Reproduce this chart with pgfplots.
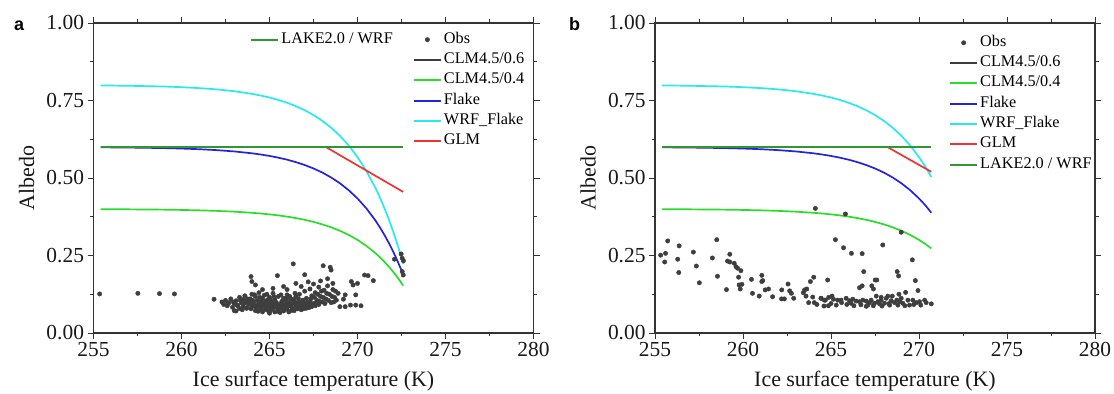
\documentclass[border=0pt]{standalone}
\usepackage{fontspec}
\setmainfont{Liberation Serif}
\newfontfamily\sansbold{Liberation Sans}
\usepackage{pgfplots}
\usepackage{pgfplotstable}
\pgfplotsset{compat=1.18}

\definecolor{obsc}{RGB}{62,62,62}
\definecolor{clmsix}{RGB}{60,60,60}
\definecolor{clmfour}{RGB}{40,222,40}
\definecolor{flakec}{RGB}{35,35,225}
\definecolor{wrfc}{RGB}{40,232,242}
\definecolor{glmc}{RGB}{240,50,50}
\definecolor{lakec}{RGB}{50,150,50}

% curves, panel a
\pgfplotstableread{
T flake wrf clm
255.4 0.5990 0.7986 0.3994
257.0 0.5982 0.7975 0.3989
259.0 0.5965 0.7951 0.3979
260.0 0.5950 0.7930 0.3970
261.0 0.5929 0.7900 0.3957
262.0 0.5899 0.7859 0.3939
263.0 0.5857 0.7799 0.3914
264.0 0.5797 0.7715 0.3878
264.5 0.5758 0.7661 0.3855
265.0 0.5712 0.7596 0.3827
265.5 0.5656 0.7519 0.3794
266.0 0.5591 0.7427 0.3754
266.5 0.5512 0.7317 0.3707
267.0 0.5419 0.7187 0.3651
267.5 0.5308 0.7031 0.3585
268.0 0.5176 0.6846 0.3505
268.5 0.5018 0.6625 0.3411
269.0 0.4830 0.6362 0.3298
269.5 0.4606 0.6049 0.3164
270.0 0.4340 0.5676 0.3004
270.5 0.4022 0.5231 0.2813
271.0 0.3644 0.4702 0.2586
271.25 0.3429 0.4400 0.2457
271.5 0.3193 0.4071 0.2316
271.75 0.2937 0.3712 0.2162
272.0 0.2657 0.3320 0.1994
272.15 0.2477 0.3067 0.1886
272.3 0.2287 0.2801 0.1772
272.45 0.2086 0.2521 0.1652
272.6 0.1876 0.2226 0.1525
}\curvesa

% curves, panel b
\pgfplotstableread{
T flake wrf clm
255.4 0.5990 0.7986 0.3994
257.0 0.5982 0.7975 0.3989
259.0 0.5965 0.7951 0.3979
260.0 0.5950 0.7930 0.3970
261.0 0.5929 0.7900 0.3957
262.0 0.5899 0.7859 0.3939
263.0 0.5857 0.7799 0.3914
264.0 0.5797 0.7715 0.3878
264.5 0.5758 0.7661 0.3855
265.0 0.5712 0.7596 0.3827
265.5 0.5656 0.7519 0.3794
266.0 0.5591 0.7427 0.3754
266.5 0.5512 0.7317 0.3707
267.0 0.5419 0.7187 0.3651
267.5 0.5308 0.7031 0.3585
268.0 0.5176 0.6846 0.3505
268.5 0.5018 0.6625 0.3411
269.0 0.4830 0.6362 0.3298
269.5 0.4606 0.6049 0.3164
270.0 0.4340 0.5676 0.3004
270.3 0.4158 0.5421 0.2895
270.5 0.4022 0.5231 0.2813
270.7 0.3879 0.5030 0.2727
}\curvesb

% observations, panel a
\pgfplotstableread{
T a
255.35 0.126
257.52 0.128
258.75 0.127
259.60 0.126
261.85 0.109
262.30 0.100
262.40 0.092
262.50 0.105
262.60 0.088
262.70 0.098
262.80 0.110
262.90 0.083
263.00 0.095
263.00 0.072
263.10 0.104
263.20 0.088
263.30 0.115
263.30 0.079
263.40 0.097
263.50 0.108
263.50 0.086
263.60 0.120
263.70 0.080
263.70 0.101
263.80 0.092
263.90 0.110
264.00 0.125
264.00 0.085
264.10 0.097
264.20 0.072
264.20 0.118
264.30 0.105
264.40 0.088
264.40 0.130
264.50 0.078
264.50 0.099
264.60 0.112
264.60 0.068
264.70 0.090
264.70 0.122
264.80 0.082
264.80 0.104
264.90 0.073
264.90 0.095
265.00 0.115
265.00 0.064
265.00 0.086
265.10 0.100
265.10 0.076
265.20 0.128
265.20 0.092
265.30 0.068
265.30 0.108
265.40 0.083
265.40 0.097
265.50 0.074
265.50 0.118
265.60 0.089
265.60 0.066
265.70 0.102
265.70 0.080
265.80 0.112
265.80 0.071
265.90 0.093
265.90 0.085
266.00 0.123
266.00 0.077
266.10 0.098
266.10 0.068
266.20 0.087
266.20 0.110
266.30 0.080
266.30 0.095
266.40 0.072
266.40 0.104
266.50 0.088
266.50 0.118
264.25 0.080
264.65 0.094
265.05 0.108
265.25 0.082
265.65 0.094
265.95 0.104
266.15 0.090
266.45 0.096
264.85 0.088
265.45 0.090
264.35 0.092
263.85 0.098
263.15 0.090
263.45 0.075
263.55 0.095
263.75 0.110
263.95 0.078
264.05 0.105
264.15 0.088
264.35 0.070
264.45 0.115
264.55 0.085
264.75 0.076
264.95 0.110
265.15 0.090
265.35 0.100
265.55 0.080
265.75 0.090
265.85 0.075
266.05 0.086
266.25 0.073
266.35 0.108
266.55 0.083
266.65 0.110
266.75 0.095
266.85 0.100
266.95 0.078
267.05 0.088
267.15 0.100
267.25 0.082
267.35 0.110
267.45 0.092
267.55 0.115
267.65 0.098
267.75 0.125
267.85 0.102
267.95 0.135
268.05 0.115
268.15 0.095
268.25 0.128
268.35 0.105
268.55 0.118
268.65 0.100
268.75 0.135
264.15 0.123
264.85 0.125
265.65 0.123
266.45 0.128
265.25 0.118
264.55 0.102
265.95 0.112
266.15 0.118
263.35 0.105
262.95 0.100
262.65 0.095
265.45 0.070
265.05 0.072
266.25 0.094
264.05 0.090
266.60 0.078
266.60 0.098
266.70 0.086
266.70 0.125
266.80 0.092
266.80 0.075
266.90 0.106
266.90 0.084
267.00 0.096
267.00 0.135
267.10 0.080
267.10 0.112
267.20 0.090
267.30 0.100
267.30 0.142
267.40 0.085
267.40 0.120
267.50 0.095
267.60 0.130
267.60 0.088
267.70 0.105
267.80 0.148
267.80 0.092
267.90 0.118
268.00 0.100
268.10 0.138
268.20 0.110
268.30 0.152
268.40 0.125
268.50 0.098
268.60 0.140
268.70 0.115
268.80 0.106
268.90 0.128
263.95 0.182
264.00 0.166
264.20 0.155
265.45 0.185
265.20 0.144
266.35 0.223
267.00 0.188
268.05 0.217
268.45 0.212
268.50 0.203
266.50 0.160
266.80 0.150
267.20 0.165
267.50 0.158
267.90 0.168
268.30 0.175
268.60 0.160
269.30 0.123
269.20 0.109
269.65 0.166
269.75 0.155
269.90 0.123
270.00 0.160
270.40 0.187
270.60 0.185
270.90 0.169
269.00 0.085
269.30 0.085
269.60 0.090
269.90 0.090
270.20 0.088
263.10 0.071
263.70 0.080
266.00 0.140
265.80 0.150
264.60 0.140
272.48 0.255
272.54 0.241
272.10 0.238
272.61 0.233
272.54 0.198
272.60 0.187
}\obsa

% observations, panel b
\pgfplotstableread{
T a
255.32 0.251
255.60 0.257
255.55 0.229
255.72 0.297
256.29 0.238
256.37 0.281
256.35 0.195
257.18 0.261
257.35 0.216
257.52 0.162
258.26 0.242
258.51 0.301
258.55 0.183
259.06 0.140
259.25 0.254
259.12 0.232
259.25 0.229
259.50 0.225
259.60 0.214
259.69 0.209
259.88 0.201
259.75 0.180
259.78 0.155
259.94 0.157
259.84 0.142
260.48 0.173
260.54 0.128
260.92 0.119
261.07 0.186
261.07 0.166
261.12 0.169
261.26 0.139
261.45 0.142
261.68 0.117
262.20 0.139
262.19 0.110
262.35 0.110
262.56 0.158
262.65 0.136
262.75 0.128
262.88 0.112
263.43 0.130
263.50 0.139
263.62 0.142
263.58 0.119
263.73 0.098
263.96 0.116
264.05 0.098
263.83 0.166
264.02 0.180
264.11 0.402
264.44 0.112
264.68 0.106
264.85 0.088
265.82 0.384
268.99 0.325
265.25 0.301
265.71 0.275
266.16 0.257
266.77 0.256
267.94 0.284
269.62 0.236
266.86 0.198
268.76 0.198
268.84 0.184
264.81 0.171
267.51 0.171
267.60 0.171
269.79 0.169
266.62 0.146
266.77 0.152
267.32 0.152
267.41 0.142
269.94 0.137
269.24 0.131
268.23 0.119
268.48 0.119
268.86 0.125
267.57 0.119
267.85 0.115
264.43 0.112
264.62 0.106
264.87 0.115
265.06 0.119
265.14 0.109
265.38 0.106
265.57 0.106
265.86 0.112
266.05 0.104
266.14 0.096
266.24 0.109
266.43 0.103
266.62 0.101
266.81 0.106
267.00 0.103
267.09 0.090
267.19 0.098
267.28 0.106
267.47 0.096
267.66 0.101
267.76 0.094
267.85 0.106
268.04 0.096
268.14 0.112
268.33 0.090
268.42 0.104
268.61 0.098
268.74 0.106
268.90 0.101
268.99 0.112
269.08 0.096
269.37 0.106
269.46 0.090
269.65 0.106
269.85 0.098
270.03 0.101
270.32 0.106
270.41 0.098
270.70 0.094
264.20 0.092
264.60 0.087
265.00 0.095
265.30 0.090
265.60 0.098
265.90 0.092
266.30 0.088
266.70 0.091
267.00 0.086
267.40 0.088
267.90 0.087
268.30 0.095
268.80 0.090
269.20 0.088
269.70 0.092
270.10 0.090
}\obsb

\pgfplotsset{
  panel/.style={
    scale only axis, width=440bp, height=310bp,
    xmin=255, xmax=280, ymin=0, ymax=1,
    xtick={255,260,265,270,275,280},
    ytick={0,0.25,0.5,0.75,1},
    minor x tick num=1, minor y tick num=1,
    tick align=outside,
    major tick length=6bp, minor tick length=3.5bp,
    every tick/.style={line width=0.9bp, black!80},
    axis line style={line width=1.3bp, black!80},
    /pgf/number format/assume math mode=true,
    ticklabel style={font=\fontsize{21.5}{24}\selectfont, black!90},
    yticklabel style={/pgf/number format/fixed, /pgf/number format/fixed zerofill, /pgf/number format/precision=2},
    label style={font=\fontsize{22}{26}\selectfont, black!90},
    xlabel={Ice surface temperature (K)},
    ylabel={Albedo},
    xlabel style={at={(axis description cs:0.5,-0.155)}, anchor=center},
    ylabel style={at={(axis description cs:-0.152,0.5)}, anchor=center},
    legend cell align=left,
    legend style={draw=none, fill=none, inner sep=0pt,
      font=\fontsize{16.3}{18}\selectfont,
      row sep=5.3bp,
      nodes={inner xsep=2bp, inner ysep=0bp, text height=11bp, text depth=4bp}},
    clip=false,
  },
  obsstyle/.style={only marks, mark=*, mark size=2.2bp, obsc, mark options={draw=none, fill=obsc}},
  cstyle/.style={line width=1.7bp, #1},
}

\begin{document}
\begin{tikzpicture}
\useasboundingbox (0bp,0bp) rectangle (1114bp,394bp);
\node[anchor=base west, inner sep=0pt, font=\sansbold\bfseries\fontsize{18}{20}\selectfont] at (14bp,363bp) {a};
\node[anchor=base west, inner sep=0pt, font=\sansbold\bfseries\fontsize{18}{20}\selectfont] at (569bp,363bp) {b};

\begin{axis}[panel, at={(93.5bp,61bp)}, anchor=south west,
  legend columns=2,
  legend style={at={(axis description cs:0.356,0.971)}, anchor=north west,
    /tikz/every even column/.append style={column sep=18bp}},
  legend image code/.code={\draw[#1, line width=2.1bp] (0bp,0bp) -- (27bp,0bp);}]
\addplot[obsstyle, forget plot] table[x=T, y=a] {\obsa};
\addplot[cstyle=clmsix, forget plot] coordinates {(255.4,0.6) (272.6,0.6)};
\addplot[cstyle=clmfour, forget plot] table[x=T, y=clm] {\curvesa};
\addplot[cstyle=flakec, forget plot] table[x=T, y=flake] {\curvesa};
\addplot[cstyle=wrfc, forget plot] table[x=T, y=wrf] {\curvesa};
\addplot[cstyle=glmc, forget plot] coordinates {(268.2,0.6) (272.6,0.455)};
\addplot[cstyle=lakec, forget plot] coordinates {(255.4,0.6) (272.6,0.6)};
\addlegendimage{cstyle=lakec}\addlegendentry{LAKE2.0 / WRF}
\addlegendimage{legend image code/.code={\fill[obsc] (13.5bp,0bp) circle (2.2bp);}}\addlegendentry{Obs}
\addlegendimage{empty legend}\addlegendentry{}
\addlegendimage{cstyle=clmsix}\addlegendentry{CLM4.5/0.6}
\addlegendimage{empty legend}\addlegendentry{}
\addlegendimage{cstyle=clmfour}\addlegendentry{CLM4.5/0.4}
\addlegendimage{empty legend}\addlegendentry{}
\addlegendimage{cstyle=flakec}\addlegendentry{Flake}
\addlegendimage{empty legend}\addlegendentry{}
\addlegendimage{cstyle=wrfc}\addlegendentry{WRF\_Flake}
\addlegendimage{empty legend}\addlegendentry{}
\addlegendimage{cstyle=glmc}\addlegendentry{GLM}
\end{axis}

\begin{axis}[panel, at={(655bp,61bp)}, anchor=south west,
  legend style={at={(axis description cs:0.668,0.961)}, anchor=north west},
  legend image code/.code={\draw[#1, line width=2.1bp] (0bp,0bp) -- (27bp,0bp);}]
\addplot[obsstyle, forget plot] table[x=T, y=a] {\obsb};
\addplot[cstyle=clmsix, forget plot] coordinates {(255.4,0.6) (270.7,0.6)};
\addplot[cstyle=clmfour, forget plot] table[x=T, y=clm] {\curvesb};
\addplot[cstyle=flakec, forget plot] table[x=T, y=flake] {\curvesb};
\addplot[cstyle=wrfc, forget plot] table[x=T, y=wrf] {\curvesb};
\addplot[cstyle=glmc, forget plot] coordinates {(268.2,0.6) (270.7,0.52)};
\addplot[cstyle=lakec, forget plot] coordinates {(255.4,0.6) (270.7,0.6)};
\addlegendimage{legend image code/.code={\fill[obsc] (13.5bp,0bp) circle (2.2bp);}}\addlegendentry{Obs}
\addlegendimage{cstyle=clmsix}\addlegendentry{CLM4.5/0.6}
\addlegendimage{cstyle=clmfour}\addlegendentry{CLM4.5/0.4}
\addlegendimage{cstyle=flakec}\addlegendentry{Flake}
\addlegendimage{cstyle=wrfc}\addlegendentry{WRF\_Flake}
\addlegendimage{cstyle=glmc}\addlegendentry{GLM}
\addlegendimage{cstyle=lakec}\addlegendentry{LAKE2.0 / WRF}
\end{axis}
\end{tikzpicture}
\end{document}
